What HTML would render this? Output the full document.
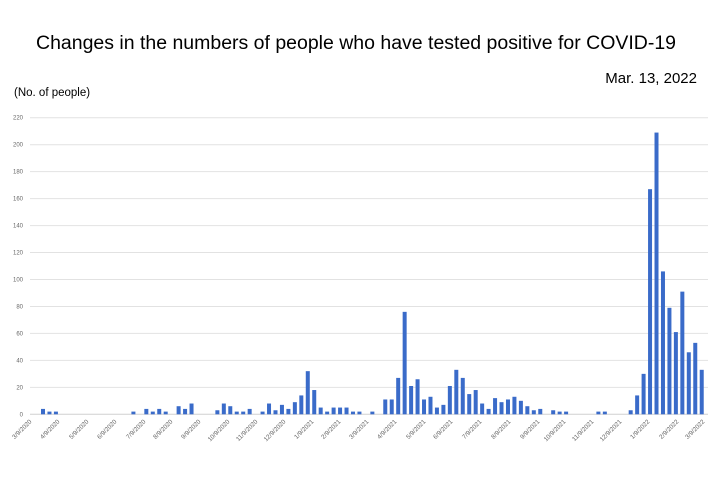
<!DOCTYPE html>
<html><head><meta charset="utf-8"><style>
html,body{margin:0;padding:0;background:#fff;width:724px;height:480px;overflow:hidden}
svg{display:block;font-family:"Liberation Sans",sans-serif}
</style></head><body>
<svg id="c" width="724" height="480" viewBox="0 0 724 480" xmlns="http://www.w3.org/2000/svg">
<text x="356" y="49" font-size="19" text-anchor="middle" textLength="640" lengthAdjust="spacingAndGlyphs" fill="#000">Changes in the numbers of people who have tested positive for COVID-19</text>
<text x="697" y="83" font-size="15" text-anchor="end" fill="#000">Mar. 13, 2022</text>
<text x="14" y="96" font-size="11.5" fill="#000">(No. of people)</text>
<g id="grid"></g>
<g id="bars" fill="#3a6bc9"></g>
<g id="xl" font-size="6.3" fill="#666"></g>
</svg>
<script>
var ns="http://www.w3.org/2000/svg";
function el(p,t,a,txt){var e=document.createElementNS(ns,t);for(var k in a)e.setAttribute(k,a[k]);if(txt!=null)e.textContent=txt;p.appendChild(e);return e;}
var g=document.getElementById('grid');
var y0=414.3,sc=1.348;
for(var v=0;v<=220;v+=20){var y=y0-v*sc;
 el(g,'line',{x1:30,x2:708,y1:y,y2:y,stroke:v==0?'#d0d0d0':'#e2e2e2','stroke-width':1});
 el(g,'text',{x:23,y:y+2,'font-size':6,'text-anchor':'end',fill:'#666'},v);}
var d={0:4,1:2,2:2,14:2,16:4,17:2,18:4,19:2,21:6,22:4,23:8,27:3,28:8,29:6,30:2,31:2,32:4,34:2,35:8,36:3,37:7,38:4,39:9,40:14,41:32,42:18,43:5,44:2,45:5,46:5,47:5,48:2,49:2,51:2,53:11,54:11,55:27,56:76,57:21,58:26,59:11,60:13,61:5,62:7,63:21,64:33,65:27,66:15,67:18,68:8,69:4,70:12,71:9,72:11,73:13,74:10,75:6,76:3,77:4,79:3,80:2,81:2,86:2,87:2,91:3,92:14,93:30,94:167,95:209,96:106,97:79,98:61,99:91,100:46,101:53,102:33};
var b=document.getElementById('bars');
for(var i in d){var x=43+i*6.458-2,h=d[i]*sc;el(b,'rect',{x:x.toFixed(2),y:(y0-h).toFixed(2),width:4,height:h.toFixed(2)});}
var labs=[["3/9/2020",32],["4/9/2020",60],["5/9/2020",89],["6/9/2020",117],["7/9/2020",146],["8/9/2020",173],["9/9/2020",201],["10/9/2020",230],["11/9/2020",258],["12/9/2020",286],["1/9/2021",314],["2/9/2021",341],["3/9/2021",369],["4/9/2021",397],["5/9/2021",426],["6/9/2021",453],["7/9/2021",482],["8/9/2021",511],["9/9/2021",540],["10/9/2021",566],["11/9/2021",594],["12/9/2021",622],["1/9/2022",650],["2/9/2022",679],["3/9/2022",705]];
var xl=document.getElementById('xl');
labs.forEach(function(l){el(xl,'text',{x:0,y:0,'text-anchor':'end',transform:'translate('+l[0+1]+',422) rotate(-45)'},l[0]);});
</script>
</body></html>
